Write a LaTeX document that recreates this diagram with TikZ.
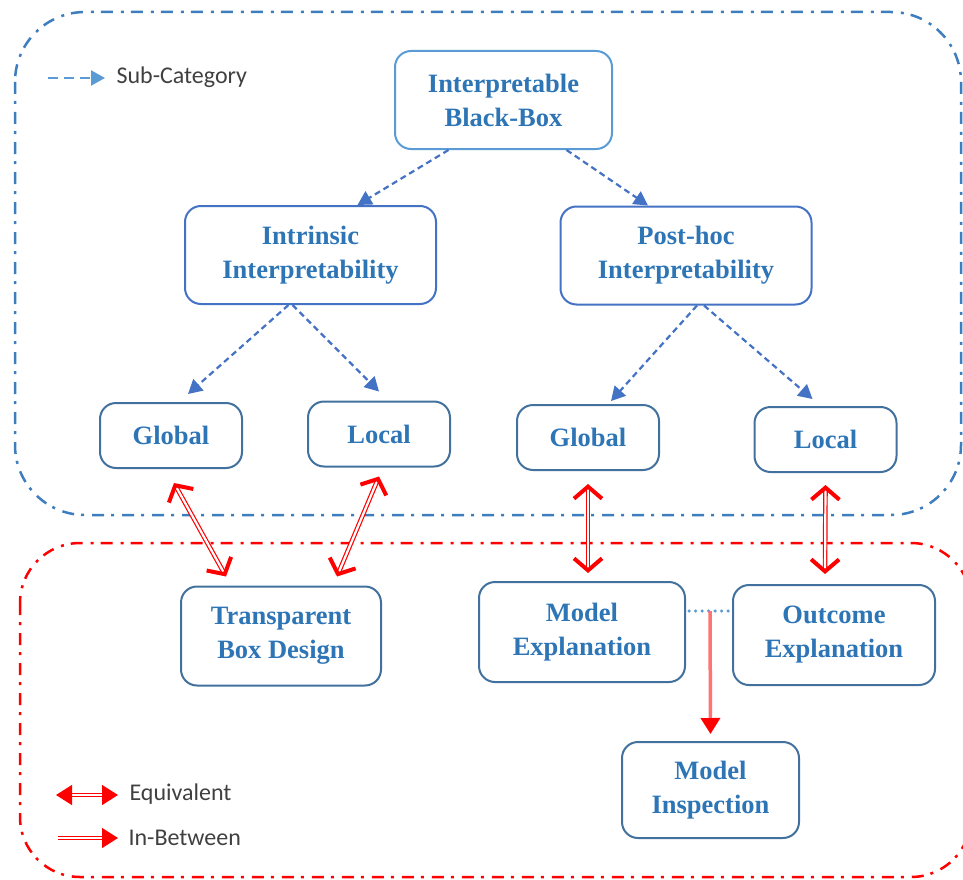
\documentclass[tikz,border=0pt]{standalone}
\usepackage{fontspec}
\setmainfont{Liberation Serif}
\newfontfamily\legendfont{Carlito}
\usetikzlibrary{arrows.meta,calc}

\definecolor{regionblue}{RGB}{62,125,190}
\definecolor{lightblue}{RGB}{91,155,213}
\definecolor{midblue}{RGB}{68,114,196}
\definecolor{steelblue}{RGB}{65,113,156}
\definecolor{labelblue}{RGB}{46,117,182}
\definecolor{legendgray}{RGB}{64,64,64}

\tikzset{
  region/.style={line width=2.5pt, rounded corners=#1,
    dash pattern=on 12pt off 7pt on 3pt off 8pt},
  box/.style={rounded corners=16pt, line width=2pt, fill=white,
    align=center, text=labelblue,
    font=\fontsize{26.5}{34}\selectfont\bfseries},
  topbox/.style={box, draw=midblue, minimum width=251pt, minimum height=98pt},
  leafbox/.style={box, draw=steelblue, minimum width=142pt, minimum height=65pt},
  lowbox/.style={box, draw=steelblue, minimum height=99pt},
  subarrow/.style={draw=midblue, line width=2.2pt,
    dash pattern=on 6pt off 4pt,
    -{Triangle[length=14pt,width=15pt]}},
  equiv/.style={draw=red, double=white, line width=1.2pt, double distance=2.2pt,
    {Straight Barb[length=12pt,width=28pt,line width=4pt]}-{Straight Barb[length=12pt,width=28pt,line width=4pt]}},
  legendtext/.style={text=legendgray, anchor=west,
    font=\legendfont\fontsize{24}{27}\selectfont},
}

\begin{document}
\begin{tikzpicture}[x=1pt,y=-1pt]
\useasboundingbox (0,0) rectangle (963,880);
\begin{scope}
\clip (0,0) rectangle (963,880);

% the two grouping regions
\draw[region=70pt, draw=regionblue] (15,12) rectangle (961,515);
\draw[region=60pt, draw=red] (20,543) rectangle (971,877);

% tree nodes
\node[box, draw=lightblue, minimum width=217pt, minimum height=98pt]
  (bb) at (503.5,100) {Interpretable\\Black-Box};
\node[topbox] (ii) at (310.5,255) {Intrinsic\\Interpretability};
\node[topbox] (ph) at (686,255.5) {Post-hoc\\Interpretability};

\node[leafbox] (g1) at (171,435.5) {Global};
\node[leafbox] (l1) at (379,434) {Local};
\node[leafbox] (g2) at (588,437.5) {Global};
\node[leafbox] (l2) at (825.5,439.5) {Local};

\node[lowbox, minimum width=200pt] (tb) at (281,636) {Transparent\\Box Design};
\node[lowbox, minimum width=206pt, minimum height=100pt] (me) at (582,632) {Model\\Explanation};
\node[lowbox, minimum width=202pt, minimum height=100pt] (oe) at (834,635) {Outcome\\Explanation};
\node[lowbox, minimum width=177pt, minimum height=96pt] (mi) at (710.5,790) {Model\\Inspection};

% sub-category links
\draw[subarrow] ([xshift=-55pt]bb.south) -- ([xshift=47pt]ii.north);
\draw[subarrow] ([xshift=63pt]bb.south) -- ([xshift=-38pt]ph.north);
\draw[subarrow] ([xshift=-22pt]ii.south) -- ([xshift=17pt,yshift=8pt]g1.north);
\draw[subarrow] ([xshift=-18pt]ii.south) -- ([yshift=9pt]l1.north);
\draw[subarrow] ([xshift=11pt]ph.south) -- ([xshift=23pt,yshift=3pt]g2.north);
\draw[subarrow] ([xshift=18pt]ph.south) -- ([xshift=-13pt,yshift=7pt]l2.north);

% equivalence links
\draw[equiv] ([xshift=3pt,yshift=-14pt]g1.south) -- ([xshift=-55pt,yshift=9pt]tb.north);
\draw[equiv] ([yshift=-9pt]l1.south) -- ([xshift=56pt,yshift=9pt]tb.north);
\draw[equiv] ([yshift=-13pt]g2.south) -- ([xshift=6pt,yshift=8pt]me.north);
\draw[equiv] ([yshift=-12pt]l2.south) -- ([xshift=-9pt,yshift=10pt]oe.north);

% in-between link
\coordinate (br) at (710,611);
\draw[draw=lightblue, line width=3.5pt, line cap=round, dash pattern=on 0pt off 6.5pt]
  ([xshift=3pt,yshift=21pt]me.east) -- ([yshift=24pt]oe.west);
\draw[draw=red!55, line width=3.5pt, -{Triangle[length=16pt,width=19pt,color=red]}]
  (br) -- ([yshift=7pt]mi.north);

% legend
\coordinate (sa) at (48,78);
\coordinate (sb) at (105,78);
\draw[draw=lightblue, line width=2.2pt, dash pattern=on 10pt off 6pt,
  -{Triangle[length=14pt,width=15pt]}] (sa) -- (sb);
\node[legendtext] (subtxt) at (113,77) {Sub-Category};

\coordinate (ea) at (56,795);
\coordinate (eb) at (118,795);
\draw[draw=red, double=white, line width=1.1pt, double distance=2pt,
  {Triangle[length=16pt,width=20pt]}-{Triangle[length=16pt,width=20pt]}] (ea) -- (eb);
\node[legendtext] (eqtxt) at (126,794) {Equivalent};

\coordinate (ia) at (58,838);
\coordinate (ib) at (118,838);
\draw[draw=red, double=white, line width=1.1pt, double distance=2pt,
  -{Triangle[length=16pt,width=20pt]}] (ia) -- (ib);
\node[legendtext] (ibtxt) at (125,838) {In-Between};
\end{scope}
\end{tikzpicture}
\end{document}
